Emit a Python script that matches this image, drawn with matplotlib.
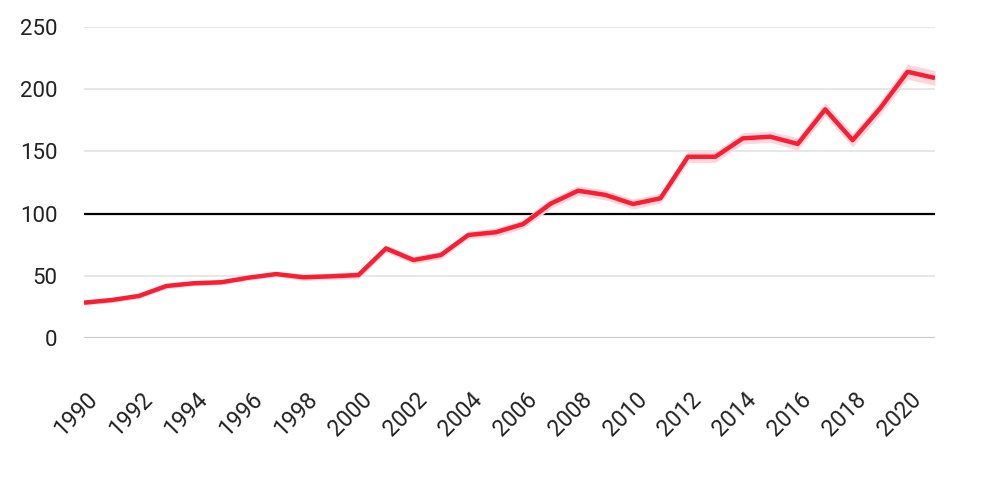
import matplotlib
matplotlib.use('Agg')
import matplotlib.pyplot as plt
import matplotlib.transforms as mtransforms

plt.rcParams['font.family'] = ['Roboto', 'DejaVu Sans']

years = list(range(1990, 2022))
values = [28.4, 30.5, 33.8, 41.8, 44.0, 44.8, 48.5, 51.4, 48.8, 49.6,
          50.6, 72.0, 62.7, 66.7, 82.8, 85.0, 91.6, 108.0, 118.4, 115.0,
          107.7, 112.3, 145.7, 145.7, 160.5, 161.8, 156.0, 183.8, 159.0, 184.6,
          214.0, 209.0]
# half width of the shaded band around the line
band = [2.0, 2.0, 2.0, 2.0, 2.0, 2.0, 2.0, 2.0, 2.5, 2.5,
        3.0, 3.0, 3.0, 3.0, 3.0, 3.5, 3.5, 4.0, 4.0, 4.0,
        4.0, 4.0, 4.5, 4.5, 4.5, 4.5, 5.0, 5.5, 5.5, 5.5,
        6.0, 6.0]
y_ticks = [0, 50, 100, 150, 200, 250]
x_ticks = list(range(1990, 2021, 2))
reference = 100

lower = [v - b for v, b in zip(values, band)]
upper = [v + b for v, b in zip(values, band)]

fig = plt.figure(figsize=(9.94, 4.8), dpi=100)
ax = fig.add_axes([84 / 994, (480 - 338) / 480, (935 - 84) / 994, 311 / 480])

for t in y_ticks:
    ax.axhline(t, color='#cccccc' if t == 0 else '#e3e3e3',
               lw=1.6 if t == 0 else 1.2, zorder=0)
ax.axhline(reference, color='black', lw=1.6, zorder=1)

ax.fill_between(years, lower, upper, color='#fcd6dd', lw=0, zorder=2)
ax.plot(years, values, color='#fa1e32', lw=3.2, solid_joinstyle='round',
        solid_capstyle='butt', zorder=3)

ax.set_xlim(1990, 2021)
ax.set_ylim(0, 250)
ax.set_yticks(y_ticks)
ax.set_xticks(x_ticks)
ax.tick_params(axis='y', length=0, pad=19, labelsize=16, labelcolor='#222222')
ax.tick_params(axis='x', length=0, pad=36, labelsize=16.5, labelcolor='#222222')
offset = mtransforms.ScaledTranslation(-8 / 100, 0, fig.dpi_scale_trans)
for lab in ax.get_xticklabels():
    lab.set_rotation(45)
    lab.set_ha('center')
    lab.set_transform(lab.get_transform() + offset)

for s in ax.spines.values():
    s.set_visible(False)

fig.savefig('out.png', dpi=100)
